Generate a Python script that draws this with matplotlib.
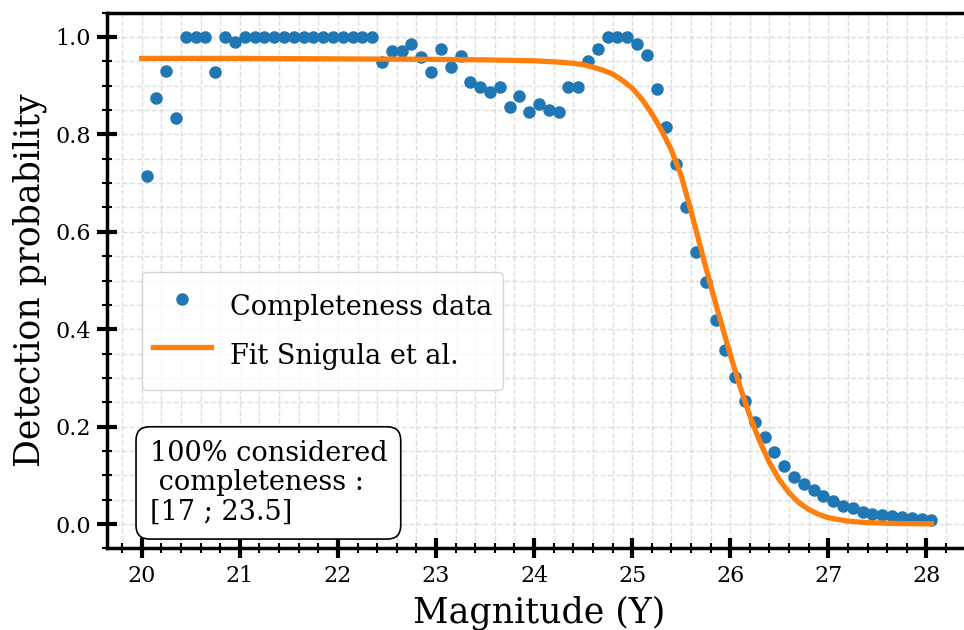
"""Completeness curve: detection probability vs magnitude with Snigula et al. fit."""
import matplotlib
matplotlib.use("Agg")
import matplotlib.pyplot as plt
from matplotlib.ticker import AutoMinorLocator

plt.rcParams["font.family"] = ["DejaVu Serif"]

# completeness data, bins of 0.1 mag from 20.05 to 28.05
mag = [round(20.05 + 0.1 * i, 2) for i in range(81)]
prob = [
    0.715, 0.874, 0.931, 0.833, 1.0, 1.0, 1.0, 0.928, 1.0, 0.990,
    1.0, 1.0, 1.0, 1.0, 1.0, 1.0, 1.0, 1.0, 1.0, 1.0,
    1.0, 1.0, 1.0, 1.0, 0.949, 0.972, 0.972, 0.986, 0.958, 0.928,
    0.975, 0.939, 0.960, 0.908, 0.897, 0.886, 0.897, 0.857, 0.879, 0.845,
    0.862, 0.851, 0.845, 0.897, 0.897, 0.950, 0.976, 1.0, 1.0, 1.0,
    0.986, 0.963, 0.893, 0.816, 0.739, 0.650, 0.559, 0.496, 0.419, 0.357,
    0.302, 0.253, 0.210, 0.178, 0.147, 0.120, 0.097, 0.083, 0.070, 0.058,
    0.047, 0.038, 0.032, 0.025, 0.021, 0.019, 0.017, 0.014, 0.012, 0.010,
    0.008,
]

# fit curve
fit_mag = [
    20.0, 21.0, 22.0, 23.0, 23.5, 24.0, 24.2, 24.4, 24.5, 24.6,
    24.7, 24.8, 24.9, 25.0, 25.1, 25.2, 25.3, 25.4, 25.5, 25.6,
    25.7, 25.8, 25.9, 26.0, 26.1, 26.2, 26.3, 26.4, 26.5, 26.6,
    26.7, 26.8, 26.9, 27.0, 27.2, 27.4, 27.7, 28.05,
]
fit_prob = [
    0.956, 0.956, 0.955, 0.954, 0.953, 0.951, 0.949, 0.946, 0.943, 0.938,
    0.932, 0.924, 0.911, 0.895, 0.872, 0.843, 0.808, 0.768, 0.715, 0.643,
    0.566, 0.490, 0.418, 0.348, 0.282, 0.222, 0.170, 0.126, 0.091, 0.064,
    0.044, 0.030, 0.020, 0.013, 0.006, 0.003, 0.001, 0.0005,
]

fig = plt.figure(figsize=(9.64, 6.3), dpi=100)
ax = fig.add_axes([0.1114, 0.1295, 0.8954, 0.8505])

ax.plot(mag, prob, "o", color="#1f77b4", ms=8, label="Completeness data")
ax.plot(fit_mag, fit_prob, "-", color="#ff7f0e", lw=3.8, label="Fit Snigula et al.")

ax.set_xlim(19.65, 28.45)
ax.set_ylim(-0.05, 1.05)
ax.xaxis.set_minor_locator(AutoMinorLocator(5))
ax.yaxis.set_minor_locator(AutoMinorLocator(4))
ax.grid(which="both", ls="--", color="#dddddd", lw=1)
ax.set_axisbelow(True)

for s in ax.spines.values():
    s.set_linewidth(2.5)
ax.tick_params(which="major", direction="inout", length=14, width=3, labelsize=16, pad=5)
ax.tick_params(which="minor", direction="inout", length=6.5, width=1.5)

ax.set_xlabel("Magnitude (Y)", fontsize=25, labelpad=6)
ax.set_ylabel("Detection probability", fontsize=25, labelpad=6)

ax.legend(loc="upper left", bbox_to_anchor=(0.040, 0.516), borderaxespad=0,
          fontsize=19.5, labelspacing=0.0, handlelength=2.15, handletextpad=0.7,
          handleheight=2.37, borderpad=0.4)

ax.text(20.08, -0.003, "100% considered\n completeness :\n[17 ; 23.5]",
        fontsize=19.5, ha="left", va="bottom", linespacing=1.1,
        bbox=dict(boxstyle="round,pad=0.5", fc="white", ec="black", lw=1.2))

fig.savefig("out.png", dpi=100)
